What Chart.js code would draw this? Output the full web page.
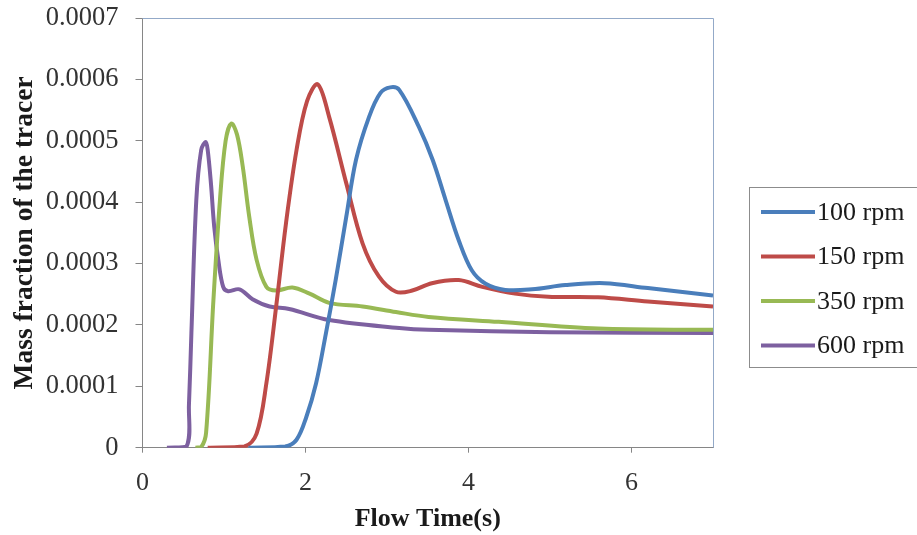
<!DOCTYPE html>
<html>
<head>
<meta charset="utf-8">
<script src="https://cdn.jsdelivr.net/npm/chart.js@4.4.1/dist/chart.umd.min.js"></script>
<style>
  html, body { margin: 0; padding: 0; background: #ffffff; }
  #wrap { width: 917px; height: 535px; position: relative; }
</style>
</head>
<body>
<div id="wrap"><canvas id="c" width="917" height="535"></canvas></div>
<script>
// Tracer mass fraction at the outlet versus flow time, for four stirring speeds
const seriesNames = ['100 rpm', '150 rpm', '350 rpm', '600 rpm'];
const seriesColors = ['#4A7EBB', '#BE4B48', '#98B954', '#7D60A0'];

const time100 = [1.30, 1.75, 1.89, 2.01, 2.13, 2.25, 2.37, 2.50, 2.62, 2.78, 2.92, 3.04, 3.15, 3.39, 3.56, 3.72, 3.88, 4.04, 4.21, 4.45, 4.78, 5.19, 5.67, 6.20, 7.00];
const mass100 = [0, 0.000002, 0.000013, 0.000050, 0.000105, 0.000186, 0.000273, 0.000376, 0.000469, 0.000539, 0.000578, 0.000587, 0.000583, 0.000523, 0.000469, 0.000403, 0.000338, 0.000289, 0.000267, 0.000257, 0.000258, 0.000265, 0.000268, 0.000260, 0.000248];

const time150 = [0.80, 1.25, 1.40, 1.52, 1.64, 1.76, 1.89, 2.02, 2.15, 2.29, 2.50, 2.70, 2.90, 3.11, 3.31, 3.55, 3.88, 4.17, 4.57, 4.98, 5.59, 6.20, 7.00];
const mass150 = [0, 0.000002, 0.000023, 0.000105, 0.000230, 0.000365, 0.000485, 0.000565, 0.000592, 0.000539, 0.000431, 0.000333, 0.000279, 0.000254, 0.000256, 0.000268, 0.000273, 0.000262, 0.000251, 0.000246, 0.000245, 0.000238, 0.000230];

const time350 = [0.65, 0.72, 0.78, 0.87, 0.95, 1.02, 1.09, 1.16, 1.23, 1.31, 1.40, 1.52, 1.64, 1.84, 2.05, 2.29, 2.70, 3.11, 3.51, 4.37, 5.59, 7.00];
const mass350 = [0, 0.000001, 0.000024, 0.000240, 0.000403, 0.000500, 0.000528, 0.000510, 0.000458, 0.000376, 0.000306, 0.000262, 0.000256, 0.000261, 0.000251, 0.000236, 0.000230, 0.000221, 0.000213, 0.000205, 0.000194, 0.000192];

const time600 = [0.30, 0.54, 0.57, 0.60, 0.66, 0.72, 0.776, 0.80, 0.84, 0.88, 0.93, 0.99, 1.05, 1.19, 1.35, 1.56, 1.80, 2.29, 3.15, 3.51, 5.00, 7.00];
const mass600 = [0, 0.000002, 0.000070, 0.000187, 0.000403, 0.000485, 0.000498, 0.000485, 0.000430, 0.000360, 0.000306, 0.000262, 0.000255, 0.000258, 0.000242, 0.000230, 0.000226, 0.000208, 0.000195, 0.000192, 0.000188, 0.000187];

const xTicks = [0, 2, 4, 6];
const yTicks = [0, 0.0001, 0.0002, 0.0003, 0.0004, 0.0005, 0.0006, 0.0007];

const serif = "'Liberation Serif', 'Times New Roman', serif";

function toPoints(ts, vs) {
  return ts.map((t, i) => ({ x: t, y: vs[i] }));
}

const seriesData = [
  toPoints(time100, mass100),
  toPoints(time150, mass150),
  toPoints(time350, mass350),
  toPoints(time600, mass600)
];

// Frame (top/right) and the boxed legend at the right edge
const framePlugin = {
  id: 'frameAndLegend',
  afterDraw(chart) {
    const { ctx, chartArea: a } = chart;
    ctx.save();
    ctx.strokeStyle = '#93A9C8';
    ctx.lineWidth = 1;
    ctx.beginPath();
    ctx.moveTo(a.left, a.top + 0.5);
    ctx.lineTo(a.right + 0.5, a.top + 0.5);
    ctx.lineTo(a.right + 0.5, a.bottom);
    ctx.stroke();

    // legend box
    ctx.strokeStyle = '#8C8C8C';
    ctx.strokeRect(749.5, 187.5, 200, 180);
    ctx.font = '26px ' + serif;
    ctx.textBaseline = 'middle';
    ctx.textAlign = 'left';
    chart.data.datasets.forEach((ds, i) => {
      const y = 212 + i * 44.5;
      ctx.strokeStyle = ds.borderColor;
      ctx.lineWidth = 4;
      ctx.beginPath();
      ctx.moveTo(761, y);
      ctx.lineTo(815, y);
      ctx.stroke();
      ctx.fillStyle = '#1a1a1a';
      ctx.fillText(ds.label, 817, y + 1);
    });
    ctx.restore();
  }
};

new Chart(document.getElementById('c'), {
  type: 'line',
  data: {
    datasets: seriesNames.map((name, i) => ({
      label: name,
      data: seriesData[i],
      borderColor: seriesColors[i],
      backgroundColor: seriesColors[i],
      borderWidth: 4,
      pointRadius: 0,
      tension: 0.35,
      fill: false
    }))
  },
  options: {
    responsive: false,
    animation: false,
    events: [],
    layout: { padding: { top: 18, right: 204, bottom: 0, left: 0 } },
    plugins: { legend: { display: false }, tooltip: { enabled: false } },
    scales: {
      x: {
        type: 'linear',
        min: 0,
        max: 7,
        afterBuildTicks(scale) { scale.ticks = xTicks.map(v => ({ value: v })); },
        afterFit(scale) { scale.height = 87.3; scale.paddingLeft = 0; scale.paddingRight = 0; },
        grid: { drawOnChartArea: false, drawTicks: true, tickLength: 5, color: '#868686' },
        border: { display: true, color: '#868686', width: 1 },
        ticks: {
          font: { family: serif, size: 26 },
          color: '#333333',
          padding: 15,
          maxRotation: 0,
          callback: v => String(v)
        },
        title: {
          display: true,
          text: 'Flow Time(s)',
          font: { family: serif, size: 26, weight: 'bold' },
          color: '#1a1a1a',
          padding: { top: 0, bottom: 0 }
        }
      },
      y: {
        type: 'linear',
        min: 0,
        max: 0.0007,
        afterBuildTicks(scale) { scale.ticks = yTicks.map(v => ({ value: v })); },
        afterFit(scale) { scale.width = 142.5; scale.paddingTop = 0; scale.paddingBottom = 0; },
        grid: { drawOnChartArea: false, drawTicks: true, tickLength: 7, color: '#868686' },
        border: { display: true, color: '#868686', width: 1 },
        ticks: {
          font: { family: serif, size: 26.5 },
          color: '#333333',
          padding: 17,
          callback: v => (v === 0 ? '0' : v.toFixed(4))
        },
        title: {
          display: true,
          text: 'Mass fraction of the tracer',
          font: { family: serif, size: 27.5, weight: 'bold' },
          color: '#1a1a1a',
          padding: { top: 8, bottom: 0 }
        }
      }
    }
  },
  plugins: [framePlugin]
});
</script>
</body>
</html>
